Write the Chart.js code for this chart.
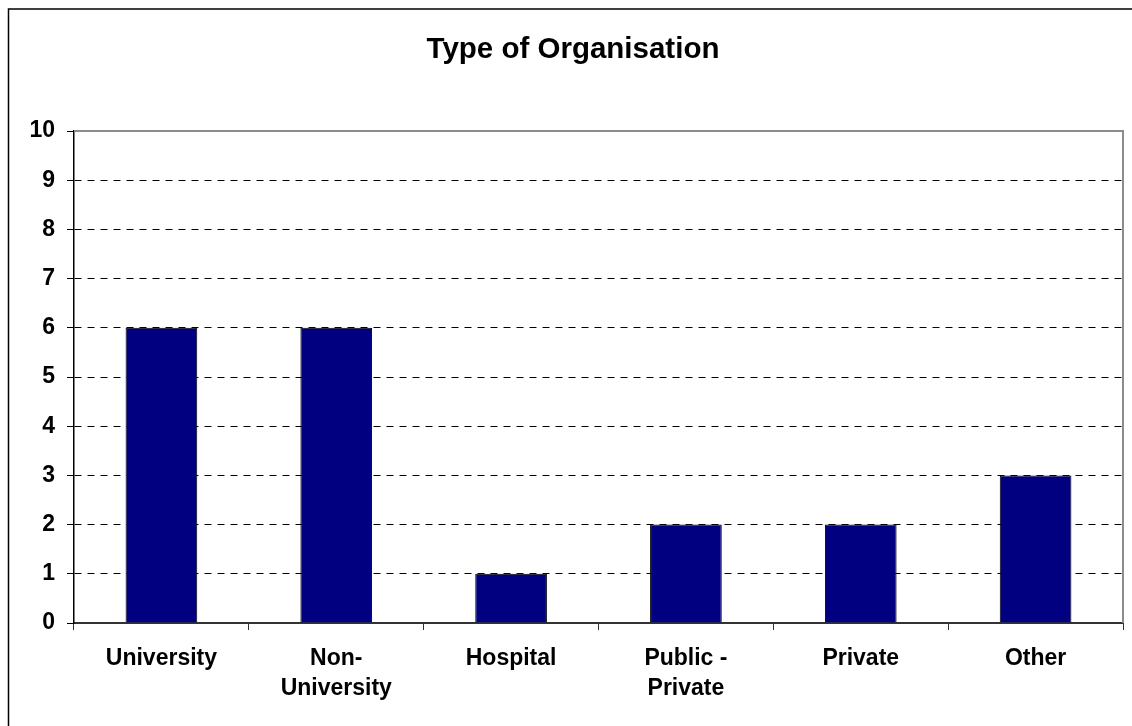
<!DOCTYPE html>
<html>
<head>
<meta charset="utf-8">
<script src="https://cdn.jsdelivr.net/npm/chart.js@4/dist/chart.umd.min.js"></script>
<style>
  html, body { margin: 0; padding: 0; background: #fff; }
  #wrap { width: 1132px; height: 726px; }
</style>
</head>
<body>
<div id="wrap"><canvas id="out" width="1132" height="726"></canvas></div>
<script>
const categories = [
  "University",
  ["Non-", "University"],
  "Hospital",
  ["Public -", "Private"],
  "Private",
  "Other"
];
const counts = [6, 6, 1, 2, 2, 3];
const yTicks = [0, 1, 2, 3, 4, 5, 6, 7, 8, 9, 10];

const FONT = "'Liberation Sans', Arial, sans-serif";

// outer frame plus the grey top/right edges of the plot area
const frame = {
  id: "frame",
  beforeDraw(chart) {
    const ctx = chart.ctx;
    ctx.save();
    ctx.strokeStyle = "#000";
    ctx.lineWidth = 1.5;
    ctx.strokeRect(8.5, 9, 2000, 2000);
    ctx.restore();
  },
  afterDatasetsDraw(chart) {
    const {ctx, chartArea: a} = chart;
    ctx.save();
    ctx.strokeStyle = "#8c8c8c";
    ctx.lineWidth = 2;
    ctx.beginPath();
    ctx.moveTo(a.left, a.top);
    ctx.lineTo(a.right, a.top);
    ctx.lineTo(a.right, a.bottom);
    ctx.stroke();
    ctx.restore();
  }
};

const canvasCtx = document.getElementById("out").getContext("2d");
const chart = new Chart(canvasCtx, {
  type: "bar",
  data: {
    labels: categories,
    datasets: [{
      data: counts,
      backgroundColor: "#000080",
      borderColor: "#000",
      borderWidth: 1,
      barPercentage: 0.41,
      categoryPercentage: 1
    }]
  },
  options: {
    responsive: false,
    animation: false,
    layout: { padding: { left: 23, right: 9, top: 0, bottom: 0 } },
    plugins: {
      legend: { display: false },
      tooltip: { enabled: false },
      title: {
        display: true,
        text: "Type of Organisation",
        color: "#000",
        font: { family: FONT, size: 29.5, weight: "bold", lineHeight: 1.2 },
        padding: { top: 32, bottom: 63.6 }
      }
    },
    scales: {
      x: {
        grid: {
          offset: true,
          drawOnChartArea: false,
          drawTicks: true,
          tickLength: 7,
          tickColor: "#333",
          tickWidth: 1
        },
        border: { color: "#333", width: 2 },
        ticks: {
          color: "#000",
          padding: 13,
          maxRotation: 0,
          autoSkip: false,
          font: { family: FONT, size: 23, weight: "bold", lineHeight: 1.33 }
        },
        afterFit(scale) { scale.height = 103; }
      },
      y: {
        min: 0,
        max: 10,
        afterBuildTicks(scale) { scale.ticks = yTicks.map(v => ({value: v})); },
        grid: {
          color: "#000",
          lineWidth: 1,
          drawTicks: true,
          tickLength: 7,
          tickColor: "#000"
        },
        border: { color: "#000", width: 1.5, dash: [7, 6] },
        ticks: {
          color: "#000",
          padding: 12,
          font: { family: FONT, size: 23, weight: "bold" }
        },
        afterFit(scale) { scale.width = 51; }
      }
    }
  },
  plugins: [frame]
});
</script>
</body>
</html>
